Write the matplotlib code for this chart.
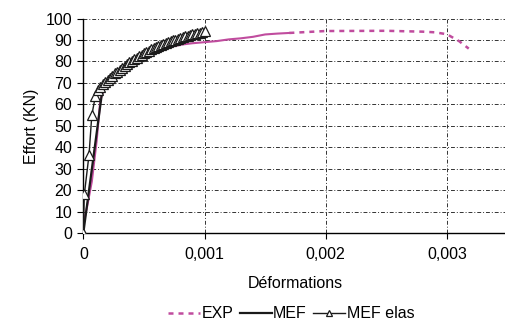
import matplotlib.pyplot as plt
import numpy as np

# EXP curve (solid part, then dashed part)
exp_x = [0, 0.00003, 0.00007, 0.00011, 0.00014, 0.00017, 0.00019, 0.00025, 0.0003,
         0.0004, 0.00047, 0.0005, 0.0006, 0.0007, 0.0008, 0.0009, 0.001, 0.0011,
         0.0012, 0.0013, 0.0014, 0.0015, 0.0016, 0.0017]
exp_y = [4, 12, 24, 43, 62, 67, 68.8, 72, 75, 78.5, 80.2, 81, 84.5, 86.5, 87.8,
         88.5, 89, 89.5, 90.3, 90.8, 91.5, 92.6, 93, 93.3]
exp2_x = [0.0017, 0.002, 0.0025, 0.0028, 0.0029, 0.003, 0.0031, 0.00318]
exp2_y = [93.3, 94.2, 94.3, 93.9, 93.6, 92.7, 89.5, 86]

# MEF
mef_x = [0, 0.000152, 0.00018, 0.00025, 0.0003, 0.0004, 0.0005, 0.0006,
         0.0007, 0.0008, 0.0009, 0.001]
mef_y = [0, 64.5, 69, 73.5, 76.5, 80.5, 83.5, 86, 88.3, 90.3, 92, 93.5]

# MEF elas (x in 1e-5)
elas_x = [0, 0.8, 4.7, 7, 10, 12, 14, 16, 18, 20, 22, 24, 26, 28, 30, 32, 34, 36,
          38, 40, 42, 44, 46, 48, 50, 52, 54, 56, 58, 60, 62, 64, 66, 68, 70, 72,
          74, 76, 78, 80, 82, 84, 86, 88, 90, 92, 94, 96, 98, 100]
elas_y = [0, 18, 36.5, 55, 64, 66.5, 68.3, 69.5, 70.5, 71.4, 72.4, 73.4, 74.4,
          75.3, 76.2, 77.1, 78, 78.8, 79.6, 80.4, 81.1, 81.8, 82.5, 83.2, 83.8,
          84.4, 85, 85.6, 86.1, 86.6, 87.1, 87.6, 88.1, 88.6, 89, 89.4, 89.8,
          90.2, 90.6, 91, 91.4, 91.7, 92, 92.3, 92.6, 92.9, 93.2, 93.5, 93.8, 94.1]

xticks = [0, 0.001, 0.002, 0.003]
xticklabels = ['0', '0,001', '0,002', '0,003']

plt.rcParams['font.family'] = ['Liberation Sans', 'DejaVu Sans']
plt.rcParams['font.size'] = 11.5

fig = plt.figure(figsize=(5.05, 3.26), dpi=100)
ax = fig.add_axes([0.165, 0.285, 0.84, 0.658])

magenta = '#c04c9e'
ax.plot(exp_x, exp_y, color=magenta, lw=1.5, zorder=2)
ax.plot(exp2_x, exp2_y, color=magenta, lw=1.8, dashes=(2, 2), label='EXP', zorder=2)
ax.plot(mef_x, mef_y, color='#1a1a1a', lw=1.6, label='MEF', zorder=3)
ax.plot(np.array(elas_x) * 1e-5, elas_y, color='#1a1a1a', lw=1.0, marker='^',
        ms=6.5, mfc='white', mec='#1a1a1a', mew=0.9, label='MEF elas', zorder=4)

ax.set_xlim(0, 0.0035)
ax.set_ylim(0, 100)
ax.set_xticks(xticks)
ax.set_xticklabels(xticklabels)
ax.set_yticks(range(0, 101, 10))
ax.grid(True, color='#333333', linestyle='-.', linewidth=0.7, dashes=(4, 2, 1, 2))
ax.set_axisbelow(True)
for s in ['top', 'right']:
    ax.spines[s].set_visible(False)
ax.spines['left'].set_linewidth(1.0)
ax.spines['bottom'].set_linewidth(1.0)
ax.tick_params(direction='out', length=4, width=0.8)
ax.tick_params(axis='x', pad=6)
ax.tick_params(axis='y', pad=4)
ax.set_xlabel('Déformations', labelpad=10)
ax.set_ylabel('Effort (KN)', labelpad=5)

leg = ax.legend(loc='upper center', bbox_to_anchor=(0.49, -0.275), ncol=3, frameon=False,
                handlelength=2.0, handletextpad=0.1, columnspacing=0.4, markerscale=0.6)

fig.savefig('out.png', dpi=100)
